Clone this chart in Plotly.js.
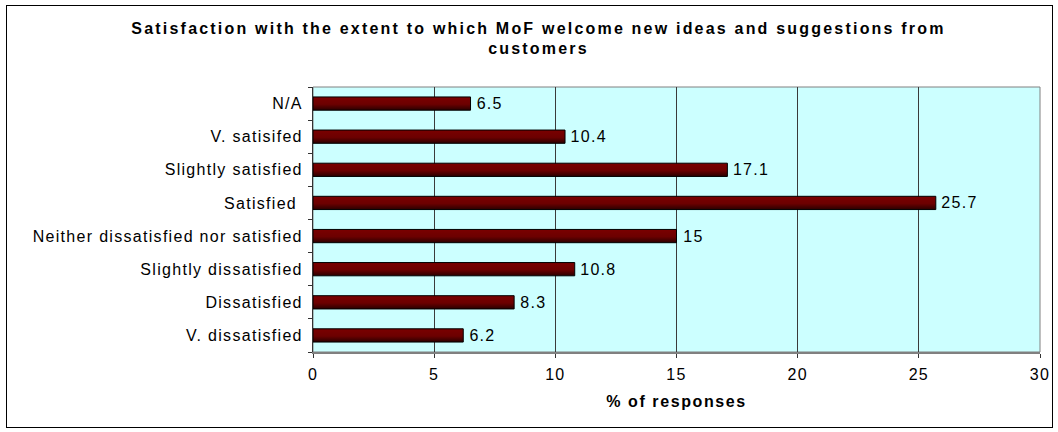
<!DOCTYPE html>
<html><head><meta charset="utf-8">
<script src="https://cdn.plot.ly/plotly-3.0.1.min.js"></script>
<style>
body{margin:0;padding:0;background:#fff;}
#wrap{position:relative;width:1058px;height:432px;}
#chart{width:1058px;height:432px;}
#frame{position:absolute;left:6px;top:5px;width:1045px;height:421px;border:1px solid #000;pointer-events:none;}
#chart .ytick text, #chart .xtick text, #chart .bartext{letter-spacing:1.3px;}
#chart .gtitle{letter-spacing:2.2px;}
#chart .xtitle{letter-spacing:1.6px;}
</style>
</head><body>
<div id="wrap"><div id="chart"></div><div id="frame"></div></div>
<script>
const categories = ["V. dissatisfied","Dissatisfied","Slightly dissatisfied","Neither dissatisfied nor satisfied","Satisfied ","Slightly satisfied","V. satisifed","N/A"];
const values = [6.2, 8.3, 10.8, 15, 25.7, 17.1, 10.4, 6.5];
const xTicks = [0,5,10,15,20,25,30];
const titleText = "Satisfaction with the extent to which MoF welcome new ideas and suggestions from<br>customers";
const xTitle = "% of responses";

const font = "Liberation Sans, Arial, sans-serif";
Plotly.newPlot("chart", [{
  type: "bar",
  orientation: "h",
  y: categories,
  x: values,
  width: 0.4,
  marker: {color: "#700000", line: {color: "#000", width: 1}},
  text: values.map(function(v){ return "\u00a0" + v; }),
  textposition: "outside",
  constraintext: "none",
  textfont: {family: font, size: 16, color: "#000"},
  cliponaxis: false,
  hoverinfo: "none"
}], {
  width: 1058, height: 432,
  margin: {l: 313, r: 18, t: 87, b: 80},
  paper_bgcolor: "#fff",
  plot_bgcolor: "#CCFFFF",
  showlegend: false,
  title: {text: "<b>" + titleText + "</b>", x: 0.509, xref: "container", xanchor: "center", y: 0.922, yref: "container", yanchor: "top",
    font: {family: font, size: 16, color: "#000"}},
  xaxis: {
    range: [0, 30], tickvals: xTicks, ticktext: xTicks.map(String),
    showgrid: true, gridcolor: "#3a3a3a", gridwidth: 1,
    showline: true, linecolor: "#808080", linewidth: 2,
    ticks: "outside", ticklen: 4, tickcolor: "#333",
    tickfont: {family: font, size: 16, color: "#000"},
    ticklabelstandoff: 3,
    zeroline: false,
    title: {text: "<b>" + xTitle + "</b>", font: {family: font, size: 16, color: "#000"}, standoff: 14}
  },
  yaxis: {
    type: "category", categoryorder: "array", categoryarray: categories,
    tickson: "boundaries", ticks: "outside", ticklen: 4, tickcolor: "#333",
    showline: true, linecolor: "#333", linewidth: 1,
    showgrid: false,
    tickfont: {family: font, size: 16, color: "#000"},
    ticklabelstandoff: 6
  },
  shapes: [{type: "rect", xref: "paper", yref: "paper", x0: 0, x1: 1, y0: 0, y1: 1,
    line: {color: "#808080", width: 1}, layer: "below"}],
  bargap: 0.6
}, {staticPlot: true}).then(function(gd){
  const svg = gd.querySelector("svg.main-svg");
  const ns = "http://www.w3.org/2000/svg";
  let defs = svg.querySelector("defs");
  if (!defs) { defs = document.createElementNS(ns, "defs"); svg.insertBefore(defs, svg.firstChild); }
  const lg = document.createElementNS(ns, "linearGradient");
  lg.setAttribute("id", "barGrad");
  lg.setAttribute("x1", "0"); lg.setAttribute("y1", "0");
  lg.setAttribute("x2", "0"); lg.setAttribute("y2", "1");
  [["0%","#7a0000"],["55%","#6c0000"],["100%","#2a0000"]].forEach(function(s){
    const st = document.createElementNS(ns, "stop");
    st.setAttribute("offset", s[0]); st.setAttribute("stop-color", s[1]);
    lg.appendChild(st);
  });
  defs.appendChild(lg);
  gd.querySelectorAll(".bars .point path").forEach(function(p){ p.style.fill = "url(#barGrad)"; });
});
</script>
</body></html>
